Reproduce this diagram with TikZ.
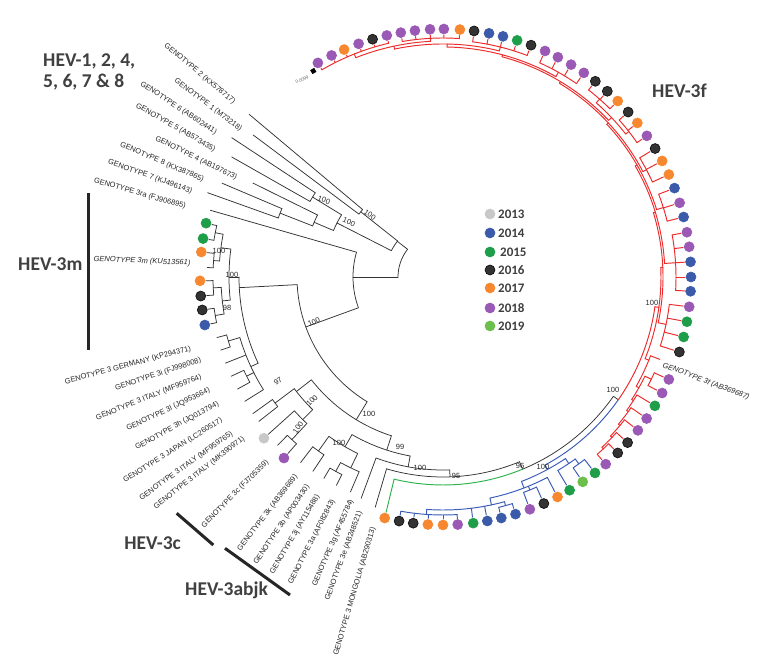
\documentclass[tikz,border=0pt]{standalone}
\usepackage{fontspec}
\setmainfont{Liberation Sans}
\newfontfamily\carlito{Carlito}
\definecolor{cP}{HTML}{9B59B6}\definecolor{eP}{HTML}{9B59B6}
\definecolor{cO}{HTML}{F7882F}\definecolor{eO}{HTML}{F7882F}
\definecolor{cK}{HTML}{333333}\definecolor{eK}{HTML}{0A0A0A}
\definecolor{cB}{HTML}{3B5BAA}\definecolor{eB}{HTML}{3B5BAA}
\definecolor{cG}{HTML}{1E9E48}\definecolor{eG}{HTML}{1E9E48}
\definecolor{cL}{HTML}{6CBF4A}\definecolor{eL}{HTML}{6CBF4A}
\definecolor{cY}{HTML}{C8C8C8}\definecolor{eY}{HTML}{C8C8C8}
\definecolor{cRed}{HTML}{EE2A2A}
\definecolor{cBlu}{HTML}{3A5BB8}
\definecolor{cGrn}{HTML}{2DB34E}
\definecolor{cLine}{HTML}{333333}
\definecolor{cTxt}{HTML}{262626}
\definecolor{cHead}{HTML}{404040}
\def\phTip{242}
\newcommand\phRad[4][]{\draw[#1] (#2:#3pt) -- (#2:#4pt);}
\newcommand\phArc[4][]{\draw[#1] (#2:#4pt) arc[start angle=#2, end angle=#3, radius=#4pt];}
\newcommand\phNode[6][]{\phRad[#1]{#2}{#3}{#4}\phArc[#1]{#5}{#6}{#4}}
\newcommand\phLeaf[4][]{\draw[#1] (#2:#3pt) -- (#2:\phTip pt);%
  \pgfmathsetmacro\phdr{\phTip+6}%
  \path[fill=c#4, draw=e#4, line width=0.6pt] (#2:\phdr pt) circle[radius=5pt];}
\newcommand\phClus[7][]{\phNode[#1]{#2}{#3}{#4}{#5}{#6}%
  \foreach \a/\c in {#7}{\edef\phtmp{\noexpand\phLeaf[#1]{\a}{#4}{\c}}\phtmp}}
\begin{document}
\begin{tikzpicture}[x=1pt,y=1pt,
  lnK/.style={draw=cLine, line width=0.75pt, line cap=round, line join=round},
  lnR/.style={draw=cRed, line width=0.95pt, line cap=round},
  lnB/.style={draw=cBlu, line width=0.95pt, line cap=round},
  lnG/.style={draw=cGrn, line width=0.95pt, line cap=round},
  lab/.style={font=\fontsize{7.5}{9}\selectfont, text=cTxt, inner sep=0pt},
  labi/.style={lab, font=\fontsize{7.5}{9}\selectfont\itshape},
  bs/.style={font=\fontsize{7.5}{8}\selectfont, text=cTxt, inner sep=0pt},
  head/.style={font=\carlito\bfseries\fontsize{19.5}{22}\selectfont, text=cHead, inner sep=0pt},
  leg/.style={font=\carlito\bfseries\fontsize{13}{15}\selectfont, text=cHead, inner sep=0pt, anchor=west},
  bar/.style={draw=black!85, line width=3pt}]
\useasboundingbox (0,0) rectangle (761,669);
\fill[white] (0,0) rectangle (761,669);
\begin{scope}[shift={(443,392)}]
% root
\phArc[lnK]{142}{180}{45}
% outgroup
\phNode[lnK]{142}{45}{58}{141.6}{153}
\phNode[lnK]{141.6}{58}{105}{140}{143.2}
\phRad[lnK]{140}{105}{253}
\phRad[lnK]{143.2}{105}{237}
\phNode[lnK]{153}{58}{119}{148.5}{157}
\phNode[lnK]{148.5}{119}{153}{146.6}{150.4}
\phRad[lnK]{146.6}{153}{253}
\phRad[lnK]{150.4}{153}{243}
\phNode[lnK]{157}{119}{140}{153.7}{158.6}
\phRad[lnK]{153.7}{140}{212}
\phNode[lnK]{158.6}{140}{175}{157}{160.3}
\phRad[lnK]{157}{175}{240}
\phRad[lnK]{160.3}{175}{250}
% HEV-3
\phNode[lnK]{180}{45}{90}{164}{200}
\phRad[lnK]{164}{90}{242}
\phNode[lnK]{200}{90}{146}{183}{238.7}
\phNode[lnK]{183}{146}{204}{180}{205}
\phNode[lnK]{180}{204}{214}{172.5}{186.2}
\phNode[lnK]{172.5}{214}{224}{169}{175.9}
\def\phTip{237}
\phClus[lnK]{169}{224}{232}{167.2}{170.9}{167.2/G,170.9/G}
\phNode[lnK]{175.9}{224}{230}{174.1}{177.7}
\phLeaf[lnK]{174.1}{230}{O}
\phRad[lnK]{177.7}{230}{236}
\phNode[lnK]{186.2}{214}{222}{182.7}{189.6}
\phClus[lnK]{182.7}{222}{230}{180.9}{184.5}{180.9/O,184.5/K}
\phClus[lnK]{189.6}{222}{231}{187.8}{191.4}{187.8/K,191.4/B}
% European group
\phNode[lnK]{205}{204}{212}{196.6}{212.1}
\phNode[lnK]{196.6}{212}{224}{195}{198.2}
\phRad[lnK]{195}{224}{234}
\phRad[lnK]{198.2}{224}{234}
\phRad[lnK]{201.6}{212}{234}
\phNode[lnK]{206.8}{212}{220}{205.1}{208.6}
\phRad[lnK]{205.1}{220}{234}
\phRad[lnK]{208.6}{220}{234}
\phRad[lnK]{212.1}{212}{234}
% K
\phNode[lnK]{238.7}{146}{167}{218}{252}
\phNode[lnK]{218}{167}{186}{216.9}{225.5}
\phNode[lnK]{216.9}{186}{210}{215.7}{218.1}
\phRad[lnK]{215.7}{210}{234}
\phRad[lnK]{218.1}{210}{234}
\def\phTip{235}
\phNode[lnK]{225.5}{186}{200}{222}{227.1}
\phLeaf[lnK]{222}{200}{Y}
\phNode[lnK]{227.1}{200}{222}{225.5}{228.7}
\phRad[lnK]{225.5}{222}{236}
\phLeaf[lnK]{228.7}{222}{P}
% N99
\phNode[lnK]{252}{167}{182}{240}{259.6}
\phNode[lnK]{240}{182}{196}{234.4}{244.2}
\phNode[lnK]{234.4}{196}{214}{232.5}{236.2}
\phRad[lnK]{232.5}{214}{234}
\phRad[lnK]{236.2}{214}{234}
\phNode[lnK]{244.2}{196}{212}{241.1}{246.7}
\phNode[lnK]{241.1}{212}{222}{239.4}{242.9}
\phRad[lnK]{239.4}{222}{234}
\phRad[lnK]{242.9}{222}{234}
\phRad[lnK]{246.7}{212}{234}
\phNode[lnK]{259.6}{182}{193}{249.7}{272}
\phRad[lnK]{249.7}{193}{236}
\phNode[lnK]{272}{193}{200}{253.6}{292.5}
\phRad[lnK]{253.6}{200}{240}
\phRad[lnK]{292.5}{200}{208}
\def\phTip{242}
\phArc[lnG]{256.4}{292.5}{208}
\phLeaf[lnG]{256.4}{208}{O}
\phArc[lnK]{292.5}{325}{208}
\phRad[lnK]{325}{208}{214}
\phArc[lnB]{298.5}{325}{214}
\phArc[lnR]{325}{352}{214}
% blue clade
\phNode[lnB]{298.5}{214}{219}{291}{304}
\phNode[lnB]{304}{219}{225}{300.7}{306}
\phLeaf[lnB]{300.7}{225}{G}
\phClus[lnB]{306}{225}{231}{304.3}{307.8}{304.3/L,307.8/G}
\phNode[lnB]{291}{219}{226}{282}{297.5}
\phLeaf[lnB]{297.5}{226}{O}
\phClus[lnB]{292.2}{226}{230}{290.5}{294}{290.5/P,294/K}
\phNode[lnB]{282}{226}{233}{266}{285.3}
\phClus[lnB]{285.3}{233}{237}{283.6}{287}{283.6/B,287/B}
\phLeaf[lnB]{280.3}{233}{B}
\phLeaf[lnB]{277}{233}{G}
\phClus[lnB]{266}{233}{238}{259.8}{273.4}{273.4/P,270/O,266.5/O,263.1/K,259.8/K}
% red clade
\phNode[lnR]{-8}{214}{218}{-22}{2.5}
\phNode[lnR]{-22}{218}{222}{-20.8}{-29.5}
\phRad[lnR]{-20.8}{222}{232}
\phNode[lnR]{-29.5}{222}{225}{-26.15}{-33}
\phClus[lnR]{-26.15}{225}{232}{-24.4}{-27.9}{-24.4/P,-27.9/P}
\phNode[lnR]{-33}{225}{227}{-31.3}{-36}
\phLeaf[lnR]{-31.3}{227}{G}
\phNode[lnR]{-36}{227}{229}{-34.8}{-40}
\phLeaf[lnR]{-34.8}{229}{P}
\phNode[lnR]{-40}{229}{231}{-38.2}{-43.5}
\phLeaf[lnR]{-38.2}{231}{P}
\phNode[lnR]{-43.5}{231}{233}{-41.9}{-47}
\phLeaf[lnR]{-41.9}{233}{K}
\phClus[lnR]{-47}{233}{235}{-45.2}{-49}{-45.2/K,-49/P}
\phNode[lnR]{2.5}{218}{220}{-12}{17}
\phClus[lnR]{-12}{220}{228}{-17.6}{-6.9}{-17.6/K,-14/G,-10.4/G,-6.9/P}
\phNode[lnR]{17}{220}{222}{3.5}{30}
\phClus[lnR]{3.5}{222}{233}{-3.3}{10.4}{-3.3/B,0/B,3.5/B,7/P,10.4/P}
\phNode[lnR]{30}{222}{224}{17.5}{43}
\phClus[lnR]{17.5}{224}{231}{14}{21}{14/B,17.4/P,21/B}
\phNode[lnR]{43}{224}{226}{27.8}{59}
\phClus[lnR]{27.8}{226}{230}{24.4}{31.2}{24.4/O,27.9/O,31.2/K}
\phNode[lnR]{59}{226}{228}{43.4}{75}
\phNode[lnR]{43.4}{228}{232}{38.05}{48.65}
\phClus[lnR]{38.05}{232}{236}{34.7}{41.7}{34.7/P,38.4/O,41.7/K}
\phClus[lnR]{48.65}{232}{237}{45.2}{52.1}{45.2/O,48.5/K,52.1/K}
\phNode[lnR]{75}{228}{230}{60.6}{89}
\phClus[lnR]{60.6}{230}{235}{55.4}{65.7}{55.4/P,58.9/P,62.4/P,65.7/P}
\phNode[lnR]{89}{230}{233}{76}{102}
\phClus[lnR]{76}{233}{237}{69.2}{82.8}{69.2/K,72.6/G,76/B,79.3/B,82.8/K}
\phNode[lnR]{102}{233}{236}{93}{111.7}
\phClus[lnR]{93}{236}{239}{86.1}{99.8}{86.1/O,89.8/P,93/P,96.5/P,99.8/P}
\phClus[lnR]{111.7}{236}{240}{103.1}{120.3}{103.1/P,106.5/K,109.9/P,113.5/O,116.7/P,120.3/P}
\end{scope}
% scale bar
\fill[black, rotate around={30:(313.3,598)}] (311,595.7) rectangle (315.6,600.3);
\node[font=\fontsize{4.5}{5}\selectfont, text=black!60, rotate=25, inner sep=0pt] (sc) at (302,589.5) {0.0099};
% taxon labels
\node[lab, anchor=north east, rotate=-40] (lG2) at (236.7,569.0) {GENOTYPE 2 (KX578717)};
\node[lab, anchor=north east, rotate=-36.8] (lG1) at (243.3,542.3) {GENOTYPE 1 (M73218)};
\node[lab, anchor=north east, rotate=-33.4] (lG6) at (218.3,539.0) {GENOTYPE 6 (AB602441)};
\node[lab, anchor=north east, rotate=-29.6] (lG5) at (216.7,522.3) {GENOTYPE 5 (AB573435)};
\node[lab, anchor=north east, rotate=-26.3] (lG4) at (238.3,494.0) {GENOTYPE 4 (AB197673)};
\node[lab, anchor=north east, rotate=-23] (lG8) at (205.0,492.3) {GENOTYPE 8 (KX387865)};
\node[lab, anchor=north east, rotate=-19.7] (lG7) at (193.3,480.7) {GENOTYPE 7 (KJ496143)};
\node[lab, anchor=north east, rotate=-16] (l3ra) at (186.7,465.7) {GENOTYPE 3ra (FJ906895)};
\node[labi, anchor=north east, rotate=-2.3] (l3m) at (190.7,409.5) {GENOTYPE 3m (KU513561)};
\node[lab, anchor=north east, rotate=15] (lGER) at (190,324) {GENOTYPE 3 GERMANY (KP294371)};
\node[lab, anchor=north east, rotate=18.2] (l3i) at (200,312.3) {GENOTYPE 3i (FJ998008)};
\node[lab, anchor=north east, rotate=21.6] (lIT1) at (200,295.7) {GENOTYPE 3 ITALY (MF959764)};
\node[lab, anchor=north east, rotate=25.1] (l3l) at (208.3,282.3) {GENOTYPE 3l (JQ953664)};
\node[lab, anchor=north east, rotate=28.6] (l3h) at (216.7,269) {GENOTYPE 3h (JQ013794)};
\node[lab, anchor=north east, rotate=32.1] (lJP) at (220,252.3) {GENOTYPE 3 JAPAN (LC260517)};
\node[lab, anchor=north east, rotate=35.7] (lIT2) at (230,239) {GENOTYPE 3 ITALY (MF959765)};
\node[lab, anchor=north east, rotate=38.1] (lIT3) at (241.7,234) {GENOTYPE 3 ITALY (MK390971)};
\node[lab, anchor=north east, rotate=45.5] (l3c) at (265,210.7) {GENOTYPE 3c (FJ705359)};
\node[lab, anchor=north east, rotate=52.5] (l3k) at (293.3,195.7) {GENOTYPE 3k (AB369689)};
\node[lab, anchor=north east, rotate=56.2] (l3b) at (305,185.7) {GENOTYPE 3b (AP003430)};
\node[lab, anchor=north east, rotate=59.4] (l3j) at (315,175.7) {GENOTYPE 3j (AY115488)};
\node[lab, anchor=north east, rotate=62.9] (l3a) at (330,170.7) {GENOTYPE 3a (AF082843)};
\node[lab, anchor=north east, rotate=66.7] (l3g) at (348.3,170.7) {GENOTYPE 3g (AF455784)};
\node[lab, anchor=north east, rotate=69.7] (l3e) at (356.7,159) {GENOTYPE 3e (AB248521)};
\node[lab, anchor=north east, rotate=73.6] (lMG) at (370,142.3) {GENOTYPE 3 MONGOLIA (AB290313)};
\node[labi, anchor=north west, rotate=-20.8] (l3f) at (664,307.3) {GENOTYPE 3f (AB369687)};
% bootstrap values
\node[bs, rotate=-20] (b1) at (324,469) {100};
\node[bs, rotate=-35] (b2) at (370,454) {100};
\node[bs, rotate=-25] (b3) at (349,447) {100};
\node[bs] (b4) at (219,418) {100};
\node[bs] (b5) at (232,394) {100};
\node[bs] (b6) at (227,361) {98};
\node[bs, rotate=25] (b7) at (314,347) {100};
\node[bs, rotate=35] (b8) at (278,288) {97};
\node[bs, rotate=45] (b9) at (312,268.3) {100};
\node[bs, rotate=55] (b10) at (298,241.3) {100};
\node[bs] (b11) at (339,226) {100};
\node[bs] (b12) at (369,255) {100};
\node[bs] (b13) at (400,222) {99};
\node[bs] (b14) at (420,201) {100};
\node[bs] (b15) at (456,193) {95};
\node[bs] (b16) at (520,203) {96};
\node[bs] (b17) at (543,202) {100};
\node[bs] (b18) at (613,279) {100};
\node[bs] (b19) at (652,366) {100};
% legend
\path[fill=cY, draw=eY, line width=0.6pt] (490,455) circle[radius=5pt];
\node[leg] (lg1) at (498,455) {2013};
\path[fill=cB, draw=eB, line width=0.6pt] (490,436) circle[radius=5pt];
\node[leg] (lg2) at (498,436) {2014};
\path[fill=cG, draw=eG, line width=0.6pt] (490,417) circle[radius=5pt];
\node[leg] (lg3) at (500,417) {2015};
\path[fill=cK, draw=eK, line width=0.6pt] (490,399) circle[radius=5pt];
\node[leg] (lg4) at (498,399) {2016};
\path[fill=cO, draw=eO, line width=0.6pt] (490,381) circle[radius=5pt];
\node[leg] (lg5) at (498,381) {2017};
\path[fill=cP, draw=eP, line width=0.6pt] (490,361) circle[radius=5pt];
\node[leg] (lg6) at (498,361) {2018};
\path[fill=cL, draw=eL, line width=0.6pt] (490,343) circle[radius=5pt];
\node[leg] (lg7) at (498,343) {2019};
% clade headings and bars
\node[head, anchor=base west] (hA) at (43,602.3) {HEV-1, 2, 4,};
\node[head, anchor=base west] (hB) at (43,581.7) {5, 6, 7 \& 8};
\node[head, anchor=base west] (hM) at (18,398.3) {HEV-3m};
\node[head, anchor=base west] (hF) at (652,571) {HEV-3f};
\node[head, anchor=base east] (hC) at (181,119) {HEV-3c};
\node[head, anchor=base west] (hJ) at (185,73.5) {HEV-3abjk};
\draw[bar] (88,476) -- (88,319);
\draw[bar] (176.7,155.7) -- (213.3,124);
\draw[bar] (225,120.7) -- (290,74);
\end{tikzpicture}
\end{document}
